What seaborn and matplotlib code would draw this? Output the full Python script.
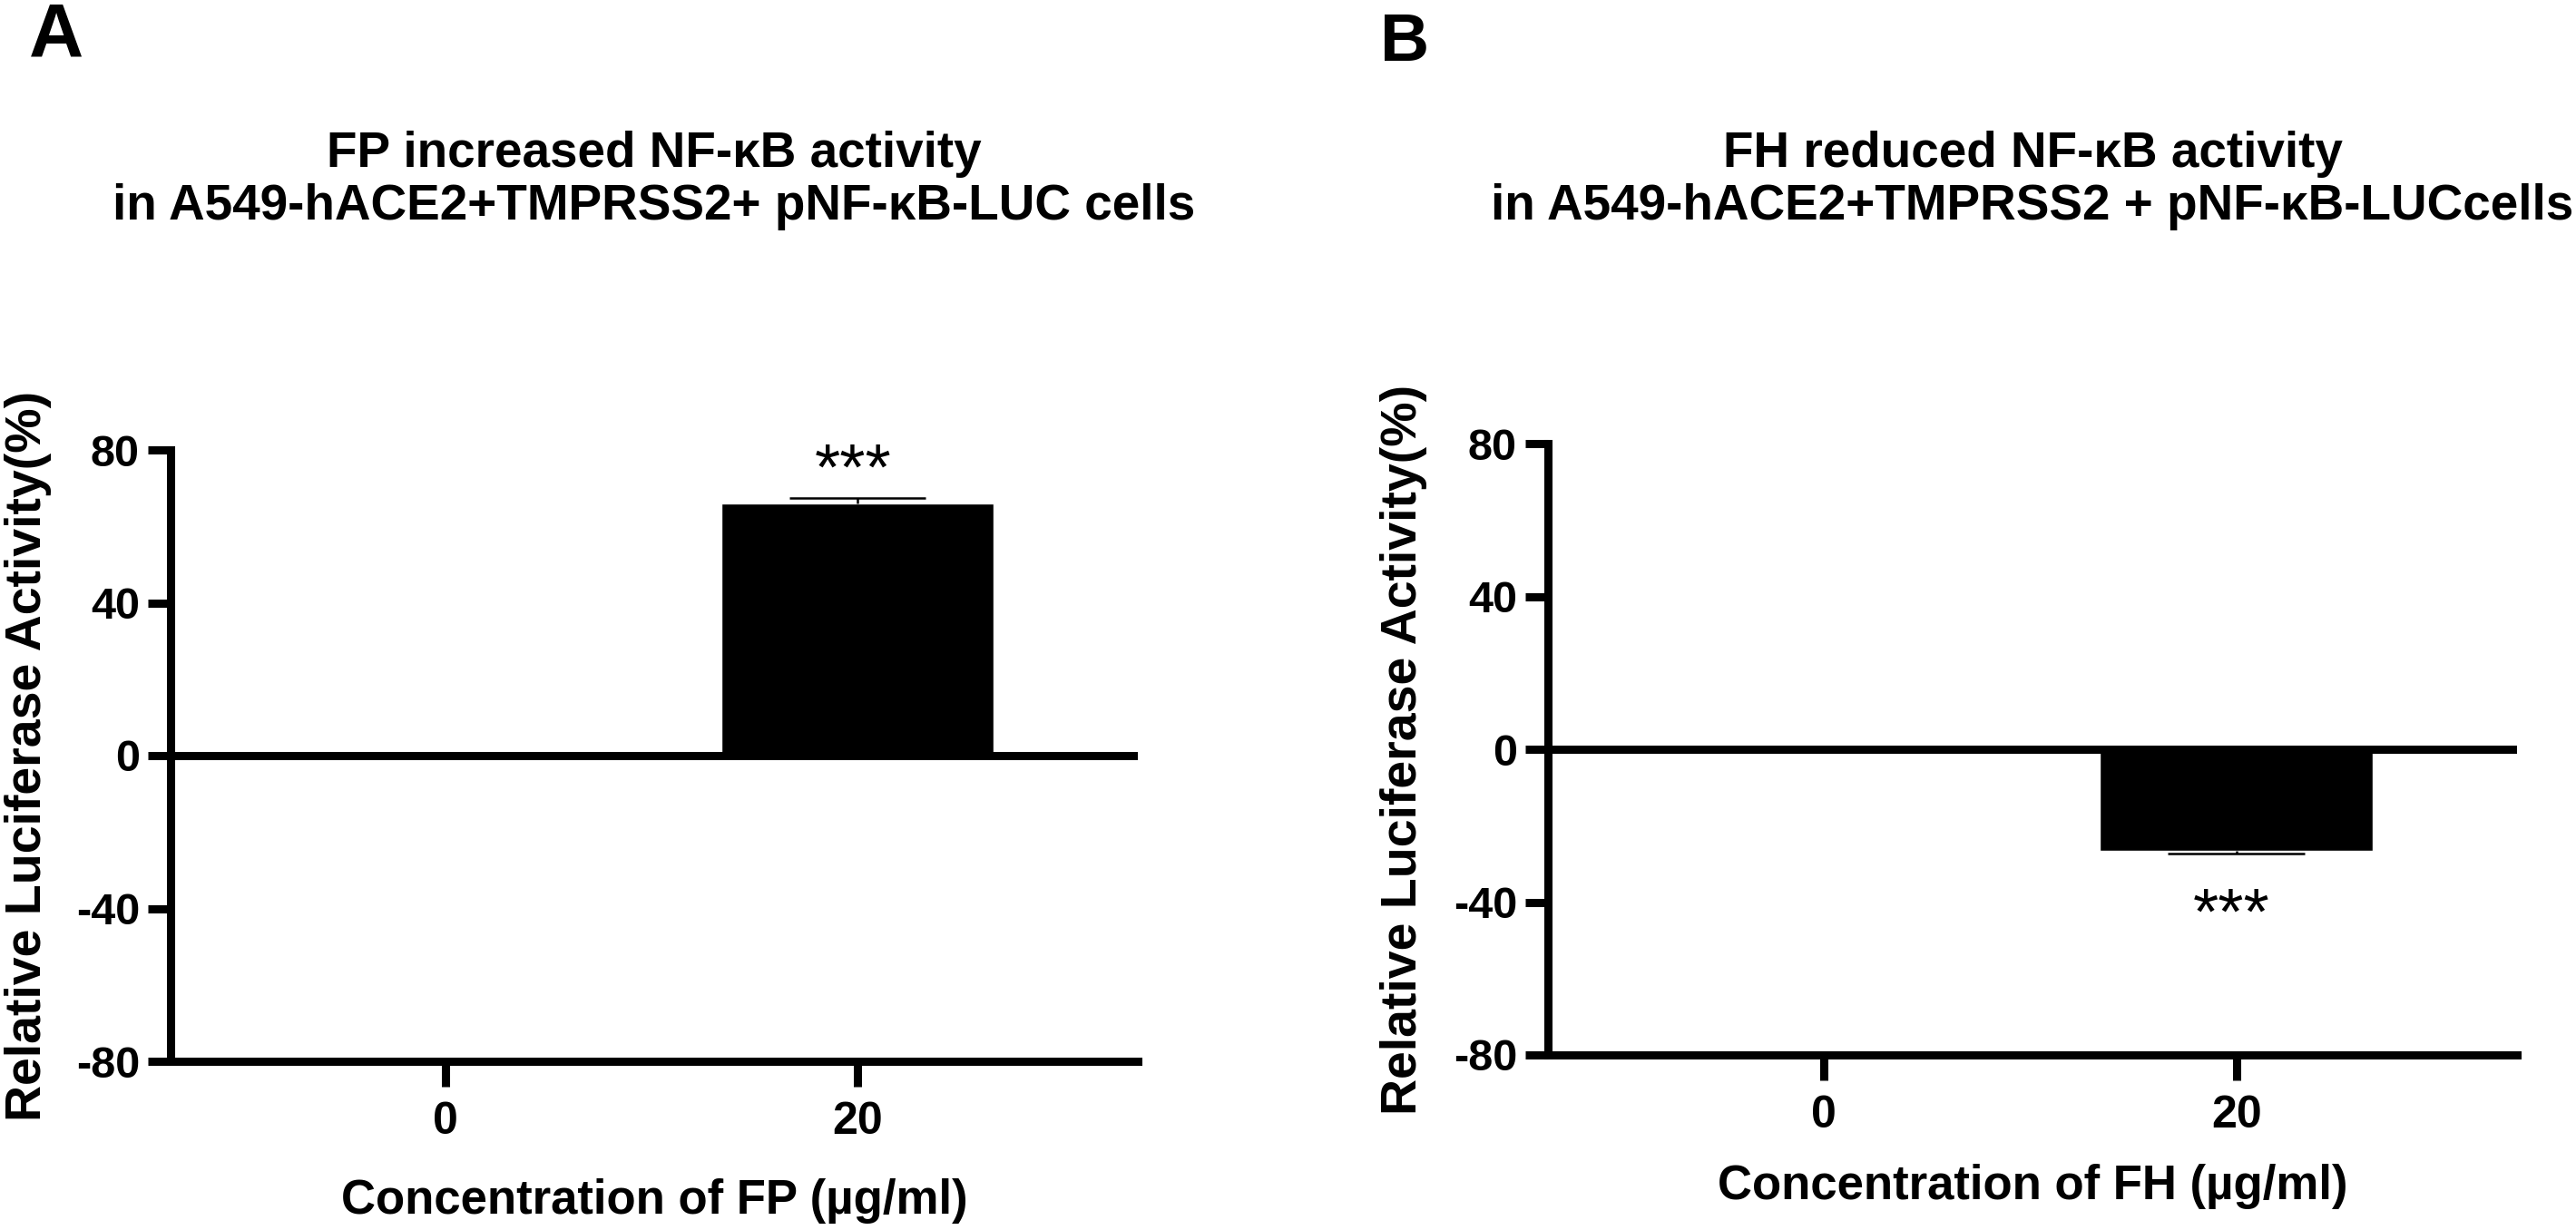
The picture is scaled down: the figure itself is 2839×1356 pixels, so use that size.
import matplotlib
matplotlib.use("Agg")
import matplotlib.pyplot as plt
import seaborn as sns
import pandas as pd

# ---------------- data ----------------
concentrations = ["0", "20"]
fp_means = [0.0, 66.1]
fp_errs = [0.0, 1.2]
fh_means = [0.0, -26.6]
fh_errs = [0.0, 0.7]
y_ticks = [-80, -40, 0, 40, 80]
panel_letters = ["A", "B"]
titles_line1 = ["FP increased NF-κB activity", "FH reduced NF-κB activity"]
titles_line2 = ["in A549-hACE2+TMPRSS2+ pNF-κB-LUC cells",
                "in A549-hACE2+TMPRSS2 + pNF-κB-LUCcells"]
x_labels = ["Concentration of FP (µg/ml)", "Concentration of FH (µg/ml)"]
y_label = "Relative Luciferase Activity(%)"
sig_marks = ["***", "***"]

# ---------------- style ----------------
sns.set_theme(style="white")
plt.rcParams["font.family"] = ["Liberation Sans", "DejaVu Sans"]

W, H = 2839, 1356
fig = plt.figure(figsize=(W / 100, H / 100), dpi=100)


def rect(x0, y0, x1, y1):
    return [x0 / W, 1 - y1 / H, (x1 - x0) / W, (y1 - y0) / H]


axes_px = [(188, 496, 1254, 1170), (1706, 489, 2774, 1163)]
xlabel_y = [-0.249, -0.236]
ylabel_x = [-0.1229, -0.1245]
letter_pos = [(32, 63, 60), (1521, 67, 54)]
LW = 6.5

series = [(fp_means, fp_errs), (fh_means, fh_errs)]

for k, (means, errs) in enumerate(series):
    x0, y0, x1, y1 = axes_px[k]
    ax = fig.add_axes(rect(x0, y0, x1, y1))
    df = pd.DataFrame({"conc": concentrations, "value": means})
    sns.barplot(data=df, x="conc", y="value", color="black", saturation=1,
                width=0.66, errorbar=None, ax=ax, zorder=2)

    # one-sided error bars (away from zero) and significance marks
    for i, (m, e) in enumerate(zip(means, errs)):
        if e > 0:
            end = m + e if m >= 0 else m - e
            ax.vlines(i, m, end, color="black", lw=1.8, zorder=3)
            ax.hlines(end, i - 0.165, i + 0.165, color="black", lw=1.8, zorder=3)
            star_y = end + 2.3 if m >= 0 else end - 21.0
            ax.text(i - 0.012, star_y, sig_marks[k], ha="center", va="baseline",
                    fontsize=52, color="black")

    ax.axhline(0, color="black", lw=LW, zorder=4)

    ax.set_xlim(-0.667, 1.68)
    ax.set_ylim(-80, 80)
    ax.set_yticks(y_ticks)
    ax.set_yticklabels([str(v) for v in y_ticks])

    for side in ["top", "right"]:
        ax.spines[side].set_visible(False)
    for side in ["left", "bottom"]:
        ax.spines[side].set_linewidth(LW)
        ax.spines[side].set_color("black")
        ax.spines[side].set_zorder(5)

    ax.tick_params(axis="y", direction="out", length=18, width=LW, pad=6.5,
                   labelsize=35, colors="black", left=True)
    ax.tick_params(axis="x", direction="out", length=20, width=LW, pad=12,
                   labelsize=36, colors="black", bottom=True)
    for lab in ax.get_xticklabels() + ax.get_yticklabels():
        lab.set_fontweight("bold")

    ax.set_xlabel(x_labels[k], fontsize=38, fontweight="bold", color="black")
    ax.xaxis.set_label_coords(0.5, xlabel_y[k])
    ax.xaxis.label.set_va("baseline")

    ax.set_ylabel(y_label, fontsize=40, fontweight="bold", color="black")
    ax.yaxis.set_label_coords(ylabel_x[k], 0.5)

    cx = (x0 + x1) / 2 / W
    fig.text(cx, 1 - 184 / H, titles_line1[k], ha="center", va="baseline",
             fontsize=39.5, fontweight="bold", color="black")
    fig.text(cx, 1 - 242 / H, titles_line2[k], ha="center", va="baseline",
             fontsize=39.5, fontweight="bold", color="black")

    lx, ly, ls = letter_pos[k]
    fig.text(lx / W, 1 - ly / H, panel_letters[k], ha="left", va="baseline",
             fontsize=ls, fontweight="bold", color="black")

fig.savefig("out.png", dpi=100, facecolor="white")
